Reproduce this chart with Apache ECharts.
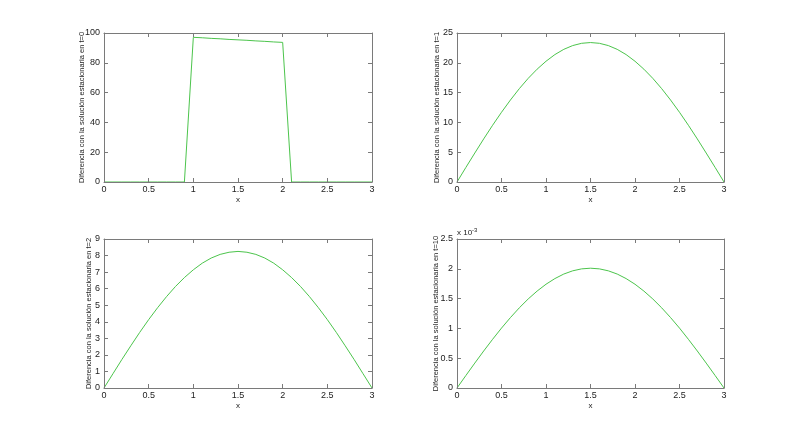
<!DOCTYPE html>
<html>
<head>
<meta charset="utf-8">
<script src="https://cdn.jsdelivr.net/npm/echarts@6/dist/echarts.min.js"></script>
<style>
  html, body { margin: 0; padding: 0; background: #fff; }
  #chart { width: 800px; height: 436px; }
</style>
</head>
<body>
<div id="chart"></div>
<script>
// x grid (paso 0.1)
const xs = [0, 0.1, 0.2, 0.3, 0.4, 0.5, 0.6, 0.7, 0.8, 0.9, 1.0, 1.1, 1.2, 1.3, 1.4, 1.5,
            1.6, 1.7, 1.8, 1.9, 2.0, 2.1, 2.2, 2.3, 2.4, 2.5, 2.6, 2.7, 2.8, 2.9, 3.0];

// diferencia con la solucion estacionaria
const diffT0 = [0, 0, 0, 0, 0, 0, 0, 0, 0, 0,
                97.1, 96.8, 96.4, 96.1, 95.7, 95.4, 95.1, 94.7, 94.4, 94.0, 93.7,
                0, 0, 0, 0, 0, 0, 0, 0, 0, 0];
const diffT1 = [0, 2.45, 4.86, 7.23, 9.52, 11.70, 13.75, 15.66, 17.39, 18.93, 20.26, 21.38, 22.26, 22.89, 23.27, 23.40,
                23.27, 22.89, 22.26, 21.38, 20.26, 18.93, 17.39, 15.66, 13.75, 11.70, 9.52, 7.23, 4.86, 2.45, 0];
const diffT2 = [0, 0.86, 1.72, 2.55, 3.36, 4.13, 4.85, 5.52, 6.13, 6.67, 7.14, 7.54, 7.85, 8.07, 8.20, 8.25,
                8.20, 8.07, 7.85, 7.54, 7.14, 6.67, 6.13, 5.52, 4.85, 4.13, 3.36, 2.55, 1.72, 0.86, 0];
const diffT10 = [0, 0.000210, 0.000418, 0.000621, 0.000817, 0.001005, 0.001181, 0.001345, 0.001494, 0.001626,
                 0.001741, 0.001836, 0.001912, 0.001966, 0.001999, 0.002010, 0.001999, 0.001966, 0.001912,
                 0.001836, 0.001741, 0.001626, 0.001494, 0.001345, 0.001181, 0.001005, 0.000817, 0.000621,
                 0.000418, 0.000210, 0];

const tiempos = ['0', '1', '2', '10'];
const yMax = [100, 25, 9, 0.0025];
const yStep = [20, 5, 1, 0.0005];
const nameGaps = [18, 16, 11, 17];
const allData = [diffT0, diffT1, diffT2, diffT10];

const grids = [
  { left: 104, top: 33, width: 268, height: 149 },
  { left: 457, top: 33, width: 267, height: 149 },
  { left: 104, top: 239, width: 268, height: 149 },
  { left: 457, top: 239, width: 267, height: 149 }
];

const font = 'Liberation Sans, Arial, sans-serif';
const axColor = '#7a7a7a';
const txtColor = '#222';

let xAxes = [], yAxes = [], series = [];
grids.forEach(function (g, i) {
  const lbl = { fontSize: 9, color: txtColor, fontFamily: font };
  const line = { show: true, onZero: false, lineStyle: { color: axColor, width: 1 } };
  const tick = { show: true, inside: true, length: 4, lineStyle: { color: axColor } };
  xAxes.push({
    gridIndex: i, type: 'value', position: 'bottom', min: 0, max: 3, interval: 0.5, z: 5,
    axisLine: line, axisTick: tick, splitLine: { show: false },
    axisLabel: Object.assign({ margin: 3 }, lbl),
    name: 'x', nameLocation: 'middle', nameGap: 14, nameMoveOverlap: false,
    nameTextStyle: { fontSize: 8, color: txtColor, fontFamily: font }
  });
  xAxes.push({
    gridIndex: i, type: 'value', position: 'top', min: 0, max: 3, interval: 0.5, z: 5,
    axisLine: line, axisTick: tick, splitLine: { show: false }, axisLabel: { show: false }
  });
  const fmt = i === 3 ? function (v) { return String(+(v * 1000).toFixed(1)); } : null;
  yAxes.push({
    gridIndex: i, type: 'value', position: 'left', min: 0, max: yMax[i], interval: yStep[i], z: 5,
    axisLine: line, axisTick: tick, splitLine: { show: false },
    axisLabel: Object.assign({ margin: 4, formatter: fmt }, lbl),
    name: 'Diferencia con la solución estacionaria en t=' + tiempos[i],
    nameLocation: 'middle', nameGap: nameGaps[i], nameRotate: 90, nameMoveOverlap: false,
    nameTextStyle: { fontSize: 7.5, color: txtColor, fontFamily: font }
  });
  yAxes.push({
    gridIndex: i, type: 'value', position: 'right', min: 0, max: yMax[i], interval: yStep[i], z: 5,
    axisLine: line, axisTick: tick, splitLine: { show: false }, axisLabel: { show: false }
  });
  series.push({
    type: 'line', xAxisIndex: i * 2, yAxisIndex: i * 2, symbol: 'none', z: 1,
    lineStyle: { color: '#4cc44c', width: 1 },
    data: xs.map(function (x, k) { return [x, allData[i][k]]; })
  });
});

const chart = echarts.init(document.getElementById('chart'));
chart.setOption({
  animation: false,
  backgroundColor: '#fff',
  grid: grids,
  xAxis: xAxes,
  yAxis: yAxes,
  series: series,
  graphic: [{
    type: 'text', left: 457, top: 227,
    style: {
      text: 'x 10{s|-3}', fontSize: 8, fill: txtColor, fontFamily: font,
      rich: { s: { fontSize: 6, verticalAlign: 'top', fill: txtColor, padding: [0, 0, 5, 0] } }
    }
  }]
});
</script>
</body>
</html>
